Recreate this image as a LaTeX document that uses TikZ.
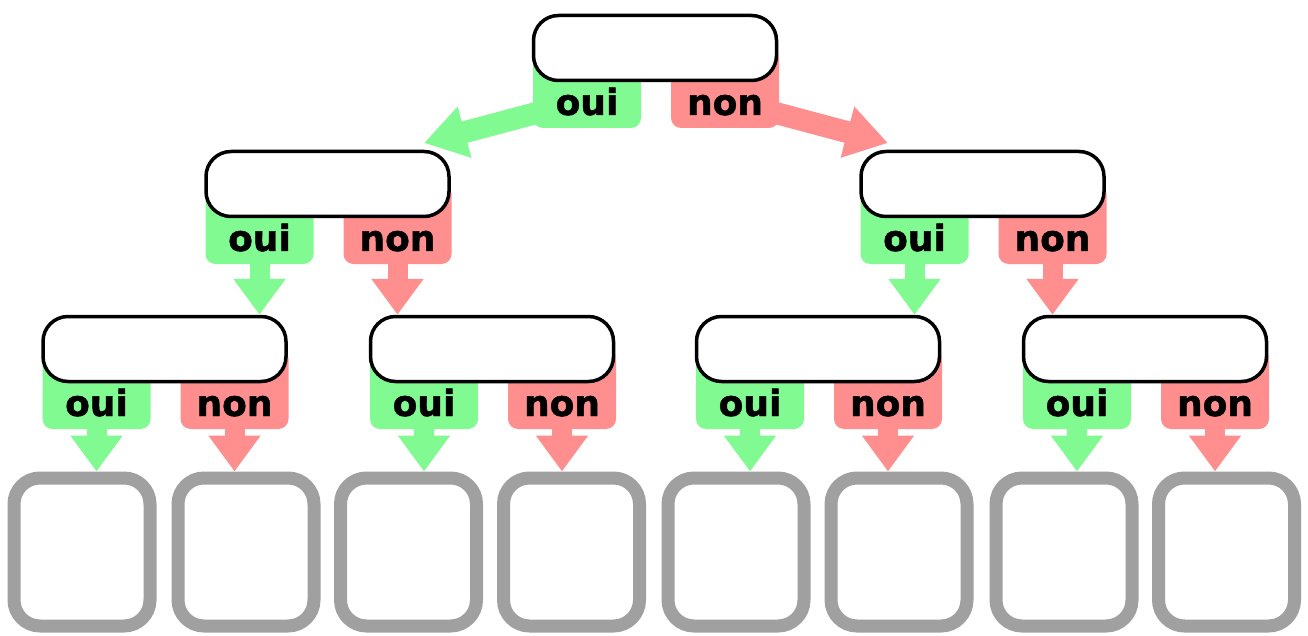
\documentclass[tikz,border=0pt]{standalone}
\usepackage{fontspec}
\setmainfont{DejaVu Sans}
\newfontfamily\tabfont{DejaVu Sans}[BoldFeatures={FakeBold=1.3}]
\usetikzlibrary{arrows.meta,calc}
\definecolor{ouigreen}{RGB}{128,250,145}
\definecolor{nonred}{RGB}{255,143,143}
\definecolor{leafgray}{RGB}{160,160,160}
\tikzset{
  dbox/.style={draw=black, line width=3.5pt, fill=white, rounded corners=25pt,
    minimum width=243pt, minimum height=65pt, inner sep=0pt},
  tabbase/.style={rounded corners=10pt, minimum width=108pt, inner sep=0pt,
    text height=67pt, text depth=13pt, anchor=base,
    font=\fontsize{36}{36}\tabfont\bfseries},
  ouitab/.style={tabbase, fill=ouigreen},
  nontab/.style={tabbase, fill=nonred},
  leaf/.style={draw=leafgray, line width=13pt, fill=white, rounded corners=26pt,
    minimum width=136pt, minimum height=148pt, inner sep=0pt},
  garrow/.style={draw=ouigreen, line width=20pt, -{Triangle[length=36pt,width=50pt]}},
  rarrow/.style={draw=nonred, line width=20pt, -{Triangle[length=36pt,width=50pt]}},
  gdiag/.style={draw=ouigreen, line width=22pt, -{Triangle[length=42pt,width=50pt]}},
  rdiag/.style={draw=nonred, line width=22pt, -{Triangle[length=42pt,width=50pt]}},
}
\newcommand{\decisionbox}[3]{%
  \node[ouitab] (#1-oui) at (#2-68,#3+67) {oui};
  \node[nontab] (#1-non) at (#2+70,#3+67) {non};
  \node[dbox] (#1) at (#2,#3) {};
}
\begin{document}
\begin{tikzpicture}[x=1pt,y=-1pt]
\useasboundingbox (0,0) rectangle (1308,636);
% leaves
\node[leaf] (c1) at (82,552) {};
\node[leaf] (c2) at (246,552) {};
\node[leaf] (c3) at (408.5,552) {};
\node[leaf] (c4) at (571.5,552) {};
\node[leaf] (c5) at (736,552) {};
\node[leaf] (c6) at (899,552) {};
\node[leaf] (c7) at (1064,552) {};
\node[leaf] (c8) at (1226.5,552) {};
% top arrows (drawn first, tabs cover their starts)
\coordinate (gs) at (555,108);
\coordinate (ge) at (424,143);
\coordinate (rs) at (757,108);
\coordinate (re) at (888,143);
\draw[gdiag] (gs) -- (ge);
\draw[rdiag] (rs) -- (re);
% decisions
\decisionbox{r}{655}{48}
\decisionbox{a}{327.5}{184}
\decisionbox{b}{982.5}{184}
\decisionbox{d1}{164.5}{349}
\decisionbox{d2}{492}{349}
\decisionbox{d3}{818}{349}
\decisionbox{d4}{1145}{349}
% down arrows level 2 -> 3
\draw[garrow] (a-oui.south) -- (a-oui.south |- d1.north);
\draw[rarrow] (a-non.south) -- (a-non.south |- d2.north);
\draw[garrow] (b-oui.south) -- (b-oui.south |- d3.north);
\draw[rarrow] (b-non.south) -- (b-non.south |- d4.north);
% down arrows level 3 -> leaves
\draw[garrow] (d1-oui.south) -- (d1-oui.south |- c1.north);
\draw[rarrow] (d1-non.south) -- (d1-non.south |- c2.north);
\draw[garrow] (d2-oui.south) -- (d2-oui.south |- c3.north);
\draw[rarrow] (d2-non.south) -- (d2-non.south |- c4.north);
\draw[garrow] (d3-oui.south) -- (d3-oui.south |- c5.north);
\draw[rarrow] (d3-non.south) -- (d3-non.south |- c6.north);
\draw[garrow] (d4-oui.south) -- (d4-oui.south |- c7.north);
\draw[rarrow] (d4-non.south) -- (d4-non.south |- c8.north);
\end{tikzpicture}
\end{document}
